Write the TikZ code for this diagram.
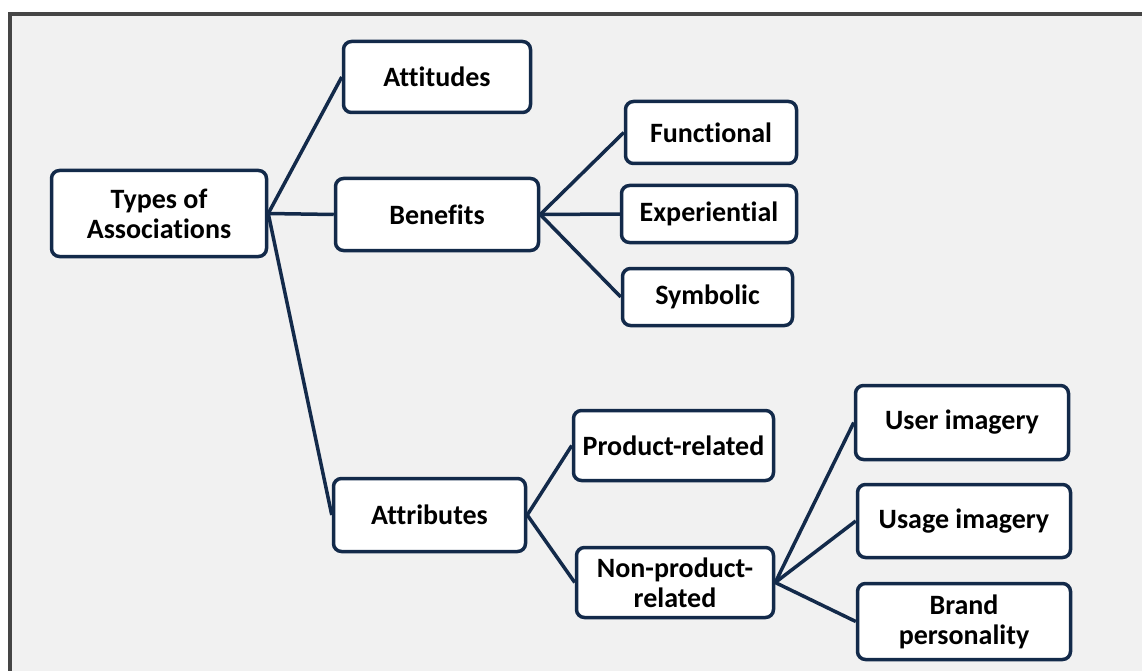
\documentclass[tikz,border=0pt]{standalone}
\usepackage{fontspec}
\setmainfont[Ligatures={NoCommon}]{Carlito}
\definecolor{navy}{HTML}{132A4A}
\definecolor{bggray}{HTML}{F1F1F1}
\definecolor{framegray}{HTML}{454545}
\begin{document}
\begin{tikzpicture}[x=1pt,y=-1pt,
  box/.style={draw=navy, line width=3.5pt, rounded corners=8pt, fill=white,
    align=center, inner sep=0pt, font=\fontsize{28}{30}\selectfont\bfseries},
  link/.style={draw=navy, line width=3.5pt}]
\useasboundingbox (0,0) rectangle (1142,671);
\fill[white] (0,0) rectangle (1142,671);
\draw[line width=4pt, draw=framegray, fill=bggray] (9.5,14) rectangle (1170,700);

\node[box, minimum width=215, minimum height=86] (types) at (159,213.5) {Types of\\Associations};
\node[box, minimum width=187, minimum height=71] (att) at (437,77) {Attitudes};
\node[box, minimum width=203, minimum height=72] (ben) at (437,214.5) {Benefits};
\node[box, minimum width=192, minimum height=73] (attr) at (429.5,515) {Attributes};
\node[box, minimum width=171, minimum height=62] (func) at (711,132.5) {Functional};
\node[box, minimum width=175, minimum height=57] (exp) at (709,214) {Experiential};
\node[box, minimum width=170, minimum height=57] (sym) at (707.5,297) {Symbolic};
\node[box, minimum width=200, minimum height=70] (prod) at (673.5,445.5) {Product-related};
\node[box, minimum width=197, minimum height=70] (nonprod) at (675,582.5) {Non-product-\\related};
\node[box, minimum width=213, minimum height=74] (user) at (962,422.5) {User imagery};
\node[box, minimum width=213, minimum height=73] (usage) at (964,521) {Usage imagery};
\node[box, minimum width=213, minimum height=76] (brand) at (964,621.5) {Brand\\personality};

\draw[link] (types.east) -- (att.west);
\draw[link] (types.east) -- (ben.west);
\draw[link] (types.east) -- (attr.west);
\draw[link] (ben.east) -- (func.west);
\draw[link] (ben.east) -- (exp.west);
\draw[link] (ben.east) -- (sym.west);
\draw[link] (attr.east) -- (prod.west);
\draw[link] (attr.east) -- (nonprod.west);
\draw[link] (nonprod.east) -- (user.west);
\draw[link] (nonprod.east) -- (usage.west);
\draw[link] (nonprod.east) -- (brand.west);
\end{tikzpicture}
\end{document}
